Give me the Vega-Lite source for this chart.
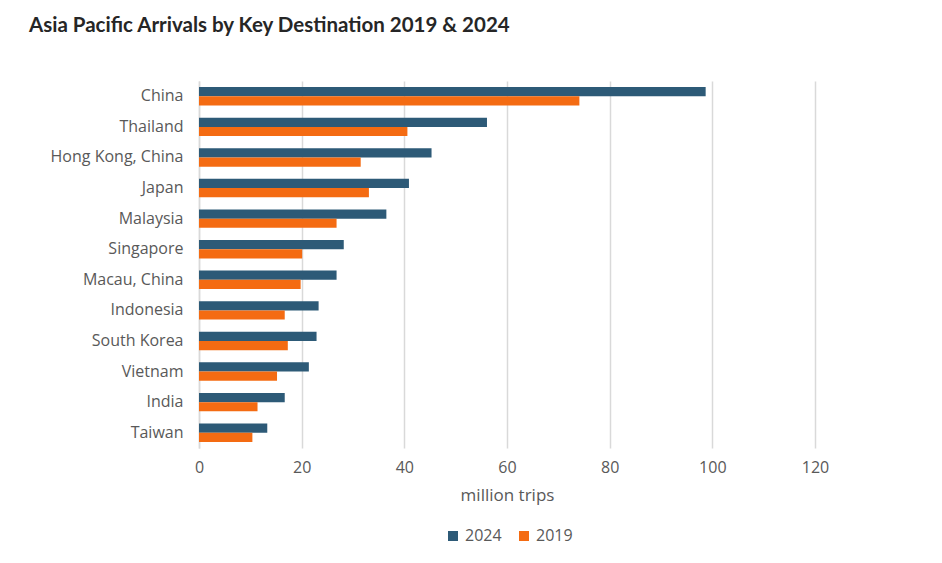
{
  "$schema": "https://vega.github.io/schema/vega-lite/v6.json",
  "autosize": "none",
  "width": 616,
  "height": 367,
  "padding": {"left": 199, "top": 81, "right": 127, "bottom": 115},
  "background": "white",
  "title": {
    "text": "Asia Pacific Arrivals by Key Destination 2019 & 2024",
    "anchor": "start",
    "frame": "group",
    "dx": -170,
    "offset": 45,
    "font": "Lato",
    "fontSize": 20.5,
    "fontWeight": "bold",
    "color": "#262626"
  },
  "data": {
    "values": [
      {"country": "China", "year": "2024", "trips": 98.7},
      {"country": "China", "year": "2019", "trips": 74.1},
      {"country": "Thailand", "year": "2024", "trips": 56.1},
      {"country": "Thailand", "year": "2019", "trips": 40.6},
      {"country": "Hong Kong, China", "year": "2024", "trips": 45.3},
      {"country": "Hong Kong, China", "year": "2019", "trips": 31.5},
      {"country": "Japan", "year": "2024", "trips": 40.9},
      {"country": "Japan", "year": "2019", "trips": 33.1},
      {"country": "Malaysia", "year": "2024", "trips": 36.5},
      {"country": "Malaysia", "year": "2019", "trips": 26.8},
      {"country": "Singapore", "year": "2024", "trips": 28.2},
      {"country": "Singapore", "year": "2019", "trips": 20.1},
      {"country": "Macau, China", "year": "2024", "trips": 26.8},
      {"country": "Macau, China", "year": "2019", "trips": 19.8},
      {"country": "Indonesia", "year": "2024", "trips": 23.3},
      {"country": "Indonesia", "year": "2019", "trips": 16.7},
      {"country": "South Korea", "year": "2024", "trips": 22.9},
      {"country": "South Korea", "year": "2019", "trips": 17.3},
      {"country": "Vietnam", "year": "2024", "trips": 21.4},
      {"country": "Vietnam", "year": "2019", "trips": 15.2},
      {"country": "India", "year": "2024", "trips": 16.7},
      {"country": "India", "year": "2019", "trips": 11.4},
      {"country": "Taiwan", "year": "2024", "trips": 13.3},
      {"country": "Taiwan", "year": "2019", "trips": 10.4}
    ]
  },
  "mark": {"type": "bar"},
  "encoding": {
    "y": {
      "field": "country",
      "type": "nominal",
      "sort": null,
      "scale": {"paddingInner": 0.4, "paddingOuter": 0.2},
      "axis": {
        "title": null,
        "ticks": false,
        "domain": true,
        "domainColor": "#d9d9d9",
        "domainWidth": 1.5,
        "labelFont": "Open Sans",
        "labelFontSize": 16,
        "labelColor": "#595959",
        "labelPadding": 16
      }
    },
    "yOffset": {"field": "year", "type": "nominal", "sort": ["2024", "2019"]},
    "x": {
      "field": "trips",
      "type": "quantitative",
      "scale": {"domain": [0, 120], "nice": false},
      "axis": {
        "values": [0, 20, 40, 60, 80, 100, 120],
        "title": "million trips",
        "titleFont": "Open Sans",
        "titleFontSize": 17,
        "titleFontWeight": "normal",
        "titleColor": "#595959",
        "titlePadding": 12,
        "domain": false,
        "ticks": false,
        "grid": true,
        "gridColor": "#d9d9d9",
        "gridWidth": 1.5,
        "labelFlush": false,
        "labelFont": "Open Sans",
        "labelFontSize": 16,
        "labelColor": "#595959",
        "labelPadding": 11
      }
    },
    "color": {
      "field": "year",
      "type": "nominal",
      "sort": ["2024", "2019"],
      "scale": {"domain": ["2024", "2019"], "range": ["#2d5a77", "#f46b12"]},
      "legend": {
        "title": null,
        "orient": "none",
        "legendX": 246,
        "legendY": 447,
        "direction": "horizontal",
        "symbolType": "square",
        "symbolSize": 100,
        "symbolStrokeWidth": 0,
        "labelFont": "Open Sans",
        "labelFontSize": 16,
        "labelColor": "#595959",
        "columnPadding": 14
      }
    }
  },
  "config": {"view": {"stroke": null}}
}
